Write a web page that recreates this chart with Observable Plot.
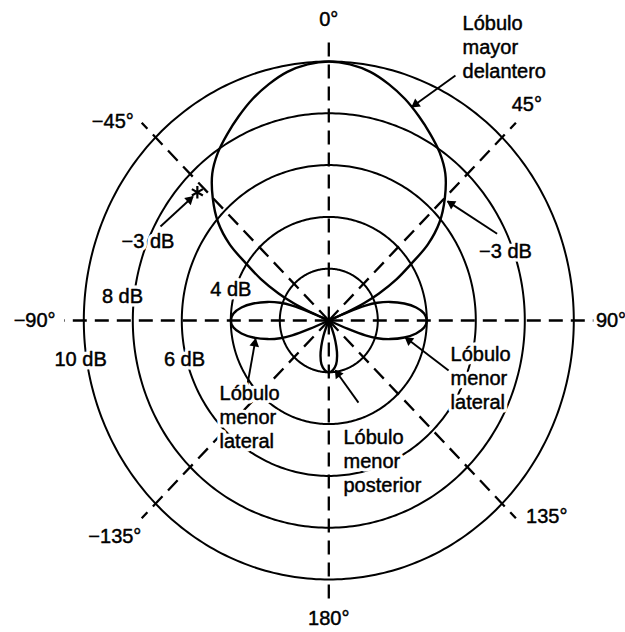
<!DOCTYPE html>
<html><head><meta charset="utf-8">
<script src="https://cdn.jsdelivr.net/npm/d3@7"></script>
<script src="https://cdn.jsdelivr.net/npm/@observablehq/plot@0.6"></script>
<style>html,body{margin:0;padding:0;background:#fff;overflow:hidden;}</style>
</head><body><div id="chart"></div>
<script>
// ---- data (angles in degrees, clockwise from 0° at top; radii in dB) ----
const ringDb = [2, 4, 6, 8, 10];
const ringLabelDb = [4, 8, 10, 6];
const ringLabelText = ["4 dB", "8 dB", "10 dB", "6 dB"];
const axisAngles = [0, 45, 90, 135, 180, -135, -90, -45];
const axisLabels = ["0°", "45°", "90°", "135°", "180°", "−135°", "−90°", "−45°"];

const mainLobeAngles = [-67.5, -66.5, -65, -63, -60, -57, -54, -50, -45, -40, -35, -30, -25, -20, -15, -10, -5, 0,
  5, 10, 15, 20, 25, 30, 35, 40, 45, 50, 54, 57, 60, 63, 65, 66.5, 67.5];
const mainLobeDb = [0, 0.8, 1.6, 2.3, 3.2, 4.0, 5.0, 5.9, 6.7, 7.4, 7.9, 8.3, 8.7, 9.1, 9.45, 9.75, 9.93, 10,
  9.93, 9.75, 9.45, 9.1, 8.7, 8.3, 7.9, 7.4, 6.7, 5.9, 5.0, 4.0, 3.2, 2.3, 1.6, 0.8, 0];

const sideLobeRightAngles = [66.5, 67.5, 69, 71, 74, 78, 82, 86, 90, 94, 98, 102, 106, 109, 111, 112.5, 113.5];
const sideLobeLeftAngles = [-66.5, -67.5, -69, -71, -74, -78, -82, -86, -90, -94, -98, -102, -106, -109, -111, -112.5, -113.5];
const sideLobeDb = [0, 0.85, 1.6, 2.1, 2.6, 3.15, 3.6, 3.9, 4.0, 3.9, 3.6, 3.15, 2.6, 2.1, 1.6, 0.85, 0];

const backLobeAngles = [156, 158, 160, 163, 166, 170, 175, 180, 185, 190, 194, 197, 200, 202, 204];
const backLobeDb = [0, 0.32, 0.65, 1.05, 1.4, 1.72, 1.92, 2.0, 1.92, 1.72, 1.4, 1.05, 0.65, 0.32, 0];

const minus3dBPoint = {angle: -47.3, db: 7.3};

const annotationTexts = ["Lóbulo\nmayor\ndelantero", "−3 dB", "−3 dB", "Lóbulo\nmenor\nlateral", "Lóbulo\nmenor\nlateral", "Lóbulo\nmenor\nposterior"];

// ---- layout ----
const W = 625, H = 632, cx = 328.3, cy = 320, kx = 24.5, ky = 25.9;
const R_AXIS = 10.8, R_LABEL = 11.6;
const rad = d => d * Math.PI / 180;
const px = (a, r) => r * Math.sin(rad(a));
const py = (a, r) => r * Math.cos(rad(a));
const toPts = (angles, dbs) => angles.map((a, i) => ({x: px(a, dbs[i]), y: py(a, dbs[i])}));

const rings = ringDb.flatMap(r => d3.range(0, 361, 1).map(a => ({ring: r, x: px(a, r), y: py(a, r)})));
const lobes = [
  ...toPts(mainLobeAngles, mainLobeDb).map(p => ({...p, k: "main"})),
  ...toPts(sideLobeLeftAngles, sideLobeDb).map(p => ({...p, k: "left"})),
  ...toPts(sideLobeRightAngles, sideLobeDb).map(p => ({...p, k: "right"})),
  ...toPts(backLobeAngles, backLobeDb).map(p => ({...p, k: "back"}))
];

// label nudges (pixels)
const axisNudge = {"0": [0, 0], "45": [-3, -3], "90": [-2, 0], "135": [17, -16], "180": [0, -2], "-135": [-13, 4], "-90": [-10, 0], "-45": [-15, 14]};
const axisLabelData = axisAngles.map((a, i) => ({
  text: axisLabels[i],
  x: px(a, R_LABEL) + axisNudge[a][0] / kx,
  y: py(a, R_LABEL) - axisNudge[a][1] / ky
}));
const ringNudge = {4: [0, 1.24], 8: [-0.42, 0.97], 10: [-0.13, -1.47], 6: [0.11, -1.47]};
const ringLabelData = ringLabelDb.map((r, i) => ({text: ringLabelText[i], x: -r + ringNudge[r][0], y: ringNudge[r][1]}));

// annotation text positions (data units)
const annPos = [[5.46, 10.58, "start"], [-7.38, 3.09, "middle"], [7.21, 2.70, "middle"], [-4.46, -3.71, "start"], [4.97, -2.20, "start"], [0.6, -5.41, "start"]];
const annData = annotationTexts.map((t, i) => ({text: t, x: annPos[i][0], y: annPos[i][1], anchor: annPos[i][2]}));

// arrows: tail -> tip (data units)
const arrows = [
  {x1: 5.17, y1: 9.46, x2: 3.40, y2: 8.25},
  {x1: -6.87, y1: 3.63, x2: -5.55, y2: 4.78},
  {x1: 6.87, y1: 3.35, x2: 4.85, y2: 4.60},
  {x1: -3.32, y1: -2.47, x2: -2.99, y2: -0.72},
  {x1: 4.89, y1: -1.93, x2: 3.13, y2: -0.66},
  {x1: 1.21, y1: -3.17, x2: 0.27, y2: -1.93}
].map(d => {
  const dxp = (d.x2 - d.x1) * kx, dyp = -(d.y2 - d.y1) * ky;
  const len = Math.hypot(dxp, dyp), ux = dxp / len, uy = dyp / len;
  const back = 4.5;
  return {...d, hx: d.x2 - ux * back / kx, hy: d.y2 + uy * back / ky,
    rot: Math.atan2(ux, -uy) * 180 / Math.PI};
});

const font = "'Liberation Sans', Arial, Helvetica, sans-serif";
const FS = 20;
const halo = {fontSize: FS, lineHeight: 1.2, fill: "white", stroke: "white", strokeWidth: 7};
const ink = {fontSize: FS, lineHeight: 1.2, fill: "black", stroke: "black", strokeWidth: 0.45};

const textMarks = (data, anchor) => [
  Plot.text(data, {x: "x", y: "y", text: "text", textAnchor: anchor, ...halo}),
  Plot.text(data, {x: "x", y: "y", text: "text", textAnchor: anchor, ...ink})
];

const chart = Plot.plot({
  width: W, height: H, margin: 0,
  x: {domain: [-cx / kx, (W - cx) / kx], axis: null},
  y: {domain: [-(H - cy) / ky, cy / ky], axis: null},
  style: {fontFamily: font, background: "white", color: "black"},
  marks: [
    Plot.line(rings, {x: "x", y: "y", z: "ring", stroke: "black", strokeWidth: 2}),
    Plot.link(axisAngles, {x1: () => 0, y1: () => 0, x2: a => px(a, R_AXIS), y2: a => py(a, R_AXIS),
      stroke: "black", strokeWidth: 2.3, strokeDasharray: "14,8"}),
    Plot.line(lobes, {x: "x", y: "y", z: "k", curve: "catmull-rom", stroke: "black", strokeWidth: 2.4}),
    Plot.link(arrows, {x1: "x1", y1: "y1", x2: "x2", y2: "y2", stroke: "black", strokeWidth: 1.9}),
    Plot.dot(arrows, {x: "hx", y: "hy", symbol: "triangle", r: 3.6, fill: "black", rotate: "rot"}),
    Plot.dot([minus3dBPoint], {x: d => px(d.angle, d.db), y: d => py(d.angle, d.db), symbol: "asterisk", r: 6, stroke: "black", strokeWidth: 2.2}),
    ...textMarks(ringLabelData, "middle"),
    ...textMarks(annData.filter(d => d.anchor === "middle"), "middle"),
    ...textMarks(annData.filter(d => d.anchor === "start"), "start"),
    Plot.text(axisLabelData, {x: "x", y: "y", text: "text", fontSize: FS, fill: "black", stroke: "black", strokeWidth: 0.45})
  ]
});
document.getElementById("chart").appendChild(chart);
</script>
</body></html>
